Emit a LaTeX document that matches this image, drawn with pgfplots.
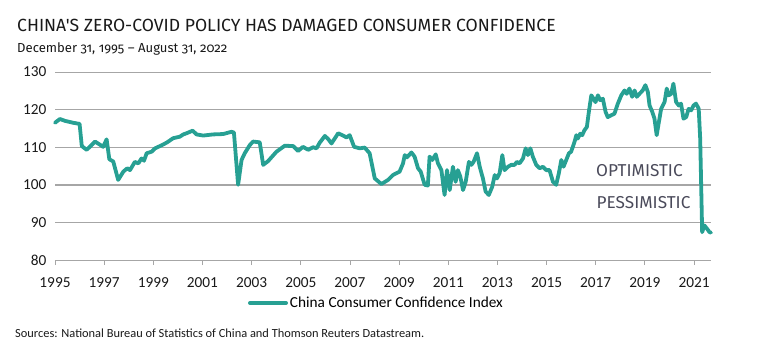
\documentclass[border=0pt]{standalone}
\usepackage{pgfplots}
\pgfplotsset{compat=1.18}
\usepackage{fontspec}
\setmainfont{Carlito}
\newfontfamily\titlefont{Fira Sans}
\newfontfamily\subfont{Fira Sans}[Numbers=OldStyle]
\definecolor{teal1}{HTML}{27A093}
\definecolor{gridg}{HTML}{A6A6A6}
\definecolor{txtg}{HTML}{4A4A5A}
\begin{document}
\begin{tikzpicture}
\path[use as bounding box] (0,0) rectangle (765bp,-352bp);
\node[anchor=base west, inner sep=0pt, text=black!90] at (17bp,-31.7bp) {\titlefont\fontsize{17.6bp}{20bp}\selectfont CHINA'S ZERO-COVID POLICY HAS DAMAGED CONSUMER CONFIDENCE};
\node[anchor=base west, inner sep=0pt, text=black!90] at (17bp,-52.7bp) {\subfont\fontsize{13.1bp}{15bp}\selectfont December 31, 1995 – August 31, 2022};
\begin{axis}[
  at={(55bp,-260bp)}, anchor=south west,
  scale only axis, width=656bp, height=188bp,
  xmin=1995, xmax=2021.69, ymin=80, ymax=130,
  axis x line*=bottom, axis y line*=left,
  x axis line style={draw=gridg, line width=0.8bp},
  y axis line style={draw=none},
  xtick={1995,1997,...,2021},
  xticklabels={1995,1997,1999,2001,2003,2005,2007,2009,2011,2013,2015,2017,2019,2021},
  ytick={80,90,...,130},
  yticklabels={80,90,100,110,120,130},
  tick align=outside,
  xtick style={draw=gridg, line width=0.8bp},
  major tick length=5bp,
  ytick style={draw=none},
  ymajorgrids, major grid style={draw=gridg, line width=0.8bp},
  tick label style={font=\fontsize{15.3bp}{18bp}\selectfont, text=black!90},
  xticklabel style={yshift=-9bp},
  clip=false,
  legend style={at={(0.49,-0.229)}, anchor=center, draw=none, fill=none,
    font=\fontsize{15.3bp}{18bp}\selectfont, inner sep=0pt,
    /tikz/every even column/.append style={column sep=0pt}},
  legend image code/.code={\draw[line width=4bp, teal1] (0bp,0bp) -- (36bp,0bp);},
]
\addplot[draw=gridg, line width=2.2bp, forget plot] coordinates {(1995,100) (2021.69,100)};
\addplot[teal1, line width=3.8bp, line join=round, line cap=round] coordinates {
(1995.00,116.5) (1995.20,117.5) (1995.41,117.0) (1995.74,116.5) (1996.00,116.2)
(1996.09,110.3) (1996.29,109.3) (1996.63,111.5) (1996.96,110.1) (1997.10,112.1)
(1997.21,106.8) (1997.37,106.2) (1997.57,101.3) (1997.78,103.5) (1997.94,104.4)
(1998.05,103.9) (1998.25,106.1) (1998.39,105.7) (1998.52,107.0) (1998.62,106.4)
(1998.73,108.4) (1998.93,108.8) (1999.07,109.7) (1999.27,110.3) (1999.54,111.2)
(1999.81,112.4) (2000.08,112.8) (2000.22,113.4) (2000.35,113.7) (2000.60,114.4)
(2000.76,113.4) (2001.03,113.1) (2001.43,113.4) (2001.84,113.5) (2002.18,114.1)
(2002.28,113.9) (2002.45,100.0) (2002.59,106.6) (2002.72,108.4) (2002.93,110.6)
(2003.06,111.5) (2003.33,111.3) (2003.47,105.3) (2003.67,106.3) (2004.01,108.8)
(2004.35,110.4) (2004.69,110.3) (2004.89,109.0) (2005.09,110.1) (2005.30,109.3)
(2005.50,110.0) (2005.64,109.7) (2005.77,111.2) (2005.98,113.0) (2006.11,112.2)
(2006.25,111.0) (2006.52,113.7) (2006.72,113.1) (2006.86,112.6) (2006.99,113.2)
(2007.17,110.1) (2007.40,109.7) (2007.60,109.9) (2007.80,108.4) (2008.01,101.7)
(2008.28,100.2) (2008.55,101.3) (2008.75,102.6) (2009.02,103.5) (2009.16,105.7)
(2009.23,107.9) (2009.32,107.3) (2009.50,108.6) (2009.63,107.5) (2009.77,104.4)
(2009.88,103.5) (2010.04,100.0) (2010.17,99.8) (2010.24,107.5) (2010.35,106.6)
(2010.49,108.1) (2010.58,105.7) (2010.72,103.9) (2010.85,97.3) (2010.95,103.9)
(2011.06,98.6) (2011.19,104.8) (2011.30,100.8) (2011.39,103.9) (2011.49,102.2)
(2011.60,98.6) (2011.71,100.8) (2011.84,106.1) (2011.94,105.3) (2012.03,106.1)
(2012.17,108.4) (2012.28,104.8) (2012.41,101.7) (2012.52,98.2) (2012.65,97.3)
(2012.79,99.5) (2012.89,102.6) (2012.98,101.7) (2013.09,103.1) (2013.20,107.9)
(2013.29,103.9) (2013.43,104.8) (2013.56,105.3) (2013.70,105.3) (2013.79,106.1)
(2013.90,105.7) (2014.04,107.0) (2014.15,109.7) (2014.24,107.9) (2014.34,109.7)
(2014.44,107.5) (2014.58,105.3) (2014.72,104.4) (2014.85,104.8) (2014.99,103.9)
(2015.12,103.9) (2015.26,100.8) (2015.39,100.0) (2015.50,103.1) (2015.60,106.6)
(2015.69,104.8) (2015.80,106.6) (2015.91,108.4) (2016.00,108.8) (2016.14,111.5)
(2016.21,113.2) (2016.27,112.3) (2016.37,113.6) (2016.45,113.2) (2016.54,114.5)
(2016.64,115.4) (2016.72,119.4) (2016.82,123.8) (2016.91,122.9) (2016.99,122.0)
(2017.09,123.8) (2017.18,122.5) (2017.29,122.9) (2017.40,119.4) (2017.49,118.0)
(2017.63,118.5) (2017.76,118.9) (2017.90,121.6) (2018.04,123.8) (2018.17,125.1)
(2018.26,124.2) (2018.37,125.6) (2018.48,123.4) (2018.58,125.1) (2018.67,123.4)
(2018.78,124.2) (2018.91,125.1) (2019.02,126.5) (2019.12,124.7) (2019.19,121.1)
(2019.30,119.4) (2019.39,117.6) (2019.48,113.2) (2019.57,116.7) (2019.66,120.2)
(2019.80,122.0) (2019.89,125.6) (2019.97,123.8) (2020.07,124.2) (2020.16,126.9)
(2020.27,122.0) (2020.38,121.1) (2020.47,121.6) (2020.57,117.6) (2020.68,118.0)
(2020.78,120.2) (2020.88,119.8) (2020.98,121.1) (2021.08,121.6) (2021.19,120.2)
(2021.25,112.3) (2021.33,87.4) (2021.42,89.2) (2021.53,88.3) (2021.63,87.4)
(2021.69,87.3)
};
\addlegendentry{China Consumer Confidence Index}
\end{axis}
\node[anchor=base west, inner sep=0pt, text=txtg] at (596bp,-176bp) {\titlefont\fontsize{17.2bp}{19bp}\selectfont OPTIMISTIC};
\node[anchor=base west, inner sep=0pt, text=txtg] at (596.5bp,-208bp) {\titlefont\fontsize{17.2bp}{19bp}\selectfont PESSIMISTIC};
\node[anchor=base west, inner sep=0pt, text=black!90] at (15bp,-337bp) {\fontsize{12.4bp}{14bp}\selectfont Sources: National Bureau of Statistics of China and Thomson Reuters Datastream.};
\end{tikzpicture}
\end{document}
